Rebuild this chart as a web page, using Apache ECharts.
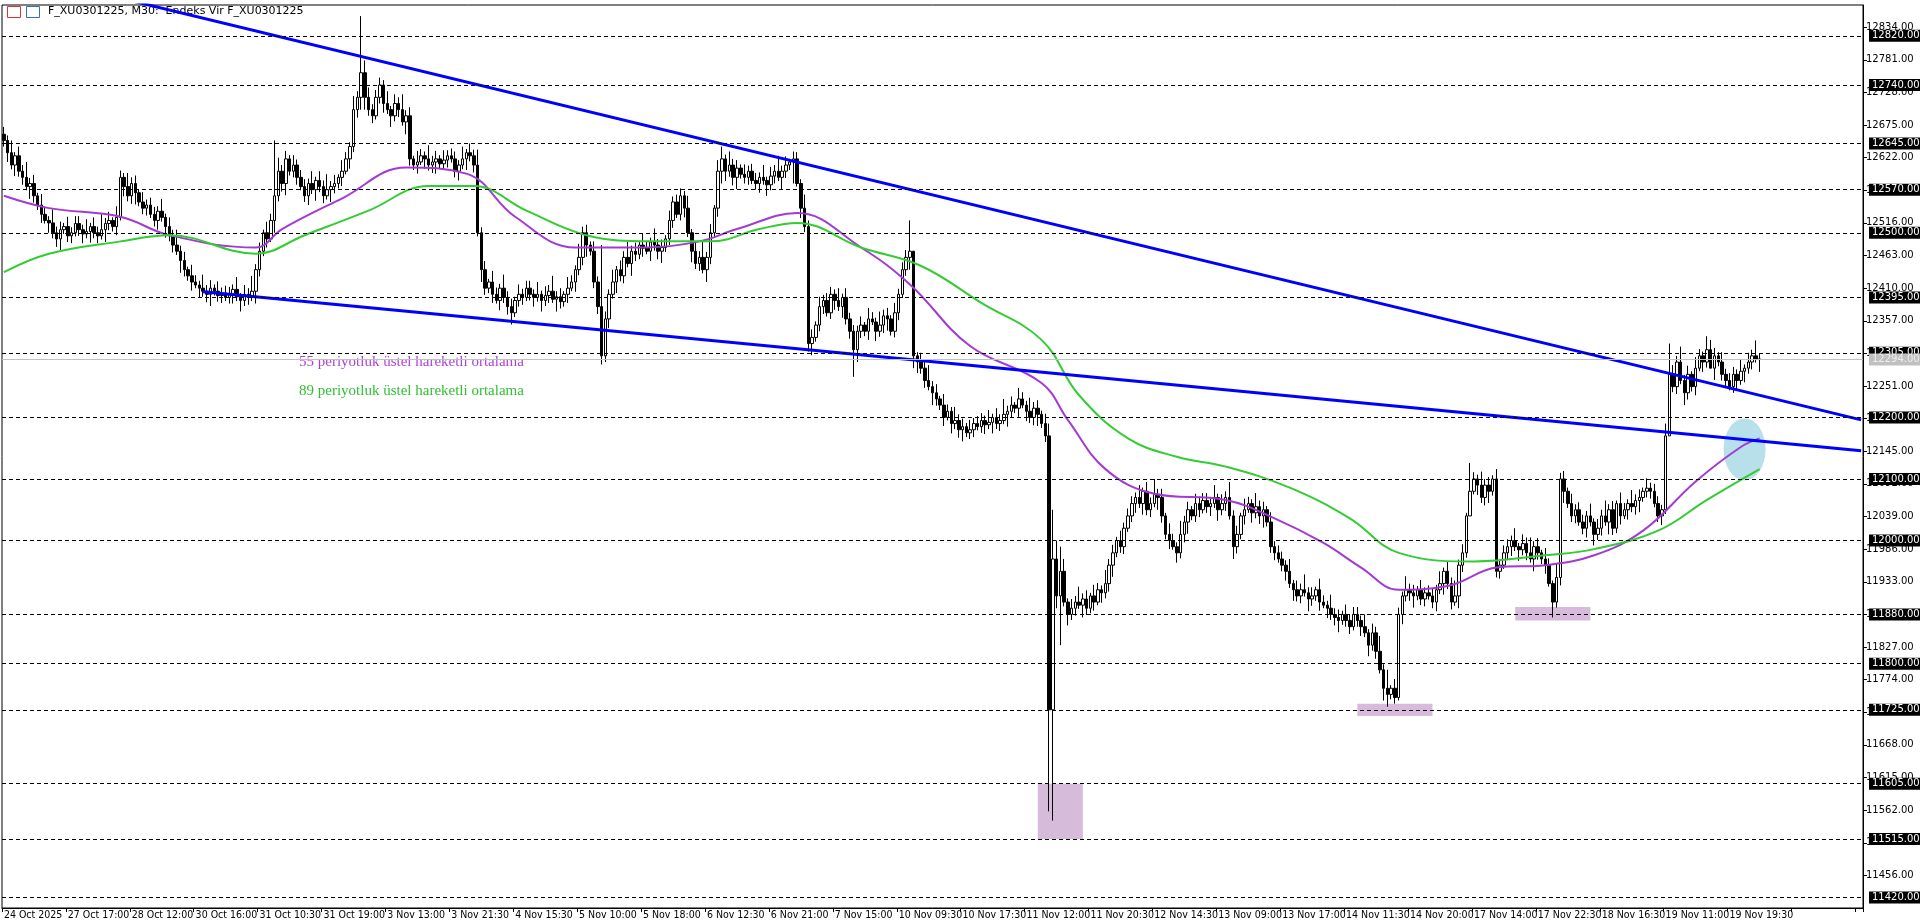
<!DOCTYPE html>
<html><head><meta charset="utf-8">
<script src="https://cdn.jsdelivr.net/npm/echarts@6/dist/echarts.min.js"></script>
<style>html,body{margin:0;padding:0;background:#fff}#c{width:1920px;height:923px}</style>
</head><body><div id="c"></div>
<script>
// x-axis tick labels (one every 17 bars)
const timeLabels = ["24 Oct 2025","27 Oct 17:00","28 Oct 12:00","30 Oct 16:00","31 Oct 10:30","31 Oct 19:00","3 Nov 13:00","3 Nov 21:30","4 Nov 15:30","5 Nov 10:00","5 Nov 18:00","6 Nov 12:30","6 Nov 21:00","7 Nov 15:00","10 Nov 09:30","10 Nov 17:30","11 Nov 12:00","11 Nov 20:30","12 Nov 14:30","13 Nov 09:00","13 Nov 17:00","14 Nov 11:30","14 Nov 20:00","17 Nov 14:00","17 Nov 22:30","18 Nov 16:30","19 Nov 11:00","19 Nov 19:30"];
const firstOpen = 12660;
// closing prices, bar by bar (open of each bar = previous close)
const closes = [
12650,12630,12610,12625,12600,12590,12575,12580,12560,12545,12530,12520,12516,
12500,12490,12505,12510,12495,12500,12515,12505,12498,12502,12510,12500,12495,12505,12515,12520,12510,12525,
12590,12575,12560,12580,12565,
12550,12540,12545,12530,12520,12535,12525,12510,12495,12480,
12470,12455,12440,12430,12420,12415,12410,12405,12400,12410,
12405,12398,12402,12395,12400,12408,12396,12390,12400,12395,12405,
12440,12470,12500,12490,12520,12560,12600,12580,12620,12600,12610,12590,
12575,12560,12580,12570,12585,12575,12560,12570,12575,12580,12590,12600,12620,12640,
12700,12720,12760,12720,12700,12690,12720,12740,12710,12700,12690,12710,12700,12680,12690,
12620,12610,12615,12625,12620,12610,12615,12620,12612,12618,12625,12620,12600,12610,12620,12630,12625,12610,
12500,12440,12410,12420,12400,12390,12410,12395,12380,12370,12390,12400,12395,12410,12400,
12395,12400,12390,12398,12405,12392,12396,12388,12400,12410,12420,12440,12460,
12500,12480,12470,12420,12380,12300,
12360,12400,12420,12440,12430,12460,12450,12470,12465,12480,12475,12470,12485,12480,12470,12476,12490,
12520,12550,12530,12560,12540,12500,12470,
12450,12460,12440,12460,12500,12540,
12600,12620,12600,12610,12590,12605,12595,12590,12600,12585,12580,12590,12585,12578,12592,12600,12590,12600,12610,12615,
12620,12580,12540,12510,12320,12330,
12350,12380,12390,12370,12400,12390,12380,12395,12360,12340,12310,12340,
12350,12340,12360,12355,12340,12350,12365,12360,12340,12370,12400,12440,12460,
12470,12300,12290,
12280,12260,12250,12240,12230,12220,12200,12210,12190,12195,12180,12185,12175,12180,
12190,12185,12195,12188,12192,12200,12190,12195,12205,12210,
12220,12215,12230,12220,12210,12200,12215,12205,12190,12170,
11725,11970,
11910,11950,11900,11880,11890,11900,11895,11905,11890,11910,11900,11920,11915,11930,
11960,11980,12000,11990,12020,12040,12060,
12070,12060,12080,12050,12060,12075,12070,12040,
12010,12000,11990,11980,12010,
12030,12050,12040,12060,12050,12065,12055,12060,12070,12050,12060,12070,12040,
11990,12010,12040,12050,12060,12045,12055,12040,12050,12030,
11990,11980,11970,11960,11950,
11930,11920,11910,11920,11915,11905,11910,11920,11900,11895,11890,
11880,11875,11870,11880,11870,11860,11880,11870,11860,11850,
11830,11850,11820,11790,11760,11750,11760,11745,
11880,11910,11920,11915,11910,11920,11905,11915,11910,11900,11920,11930,
11950,11930,11900,11910,11960,11980,
12040,12080,12100,12090,12070,12090,12080,12100,
11950,11960,11980,11990,12000,11990,11985,11995,11980,11970,11990,11980,11970,11960,
11930,11900,11940,
12100,12080,12060,12040,12050,12030,12020,12040,12030,12010,12020,
12040,12030,12050,12020,12060,12040,12050,12060,12055,12065,12070,12080,
12085,12080,12060,12040,12050,
12170,12270,12250,
12290,12260,12240,12270,12250,12280,
12300,12290,12310,12280,12300,12290,12270,
12260,12250,12270,12260,12275,12280,
12290,12300,12295,12294];
// typical wick lengths (points), repeating pattern
const upWicks = [12,8,20,6,15,10,25,9,14,5,18,11,7,22,10,13,6,16,9,12];
const downWicks = [10,15,7,18,9,12,6,20,11,8,14,5,16,9,13,19,7,10,12,6];
// notable extremes: [bar index, high, low]
const extremes = [[95,12852,12700],[96,12780,12700],[159,12480,12286],[226,12350,12266],[241,12520,12440],[242,12470,12280],[278,12190,11560],[279,12050,11545],[280,12000,11890],[281,11990,11830],[368,11790,11730],[370,11775,11735],[390,12126,12060],[412,11935,11875],[72,12650,12500],[443,12320,12250],[454,12326,12280],[191,12640,12580],[210,12632,12580]];
// EMA lines: [bar index, value]
const ema55 = [[0,12560],[12,12540],[31,12526],[44,12496],[67,12476],[74,12506],[90,12556],[107,12606],[123,12596],[136,12526],[152,12476],[169,12476],[185,12486],[195,12506],[211,12532],[228,12476],[241,12416],[257,12316],[276,12256],[283,12196],[293,12116],[306,12076],[325,12066],[338,12036],[351,11996],[361,11956],[371,11920],[384,11926],[397,11956],[410,11960],[423,11976],[436,12016],[450,12096],[462,12152],[467,12166]];
const ema89 = [[0,12436],[12,12466],[31,12486],[44,12496],[67,12466],[80,12496],[97,12536],[113,12576],[125,12576],[139,12536],[155,12496],[172,12486],[188,12486],[201,12506],[211,12516],[228,12476],[244,12446],[260,12386],[276,12326],[286,12236],[299,12166],[312,12136],[325,12120],[342,12086],[358,12036],[371,11980],[391,11966],[410,11976],[423,11986],[440,12016],[453,12066],[467,12116]];
const upperTrend = [[0,12927],[494,12196]];
const lowerTrend = [[53,12404],[494,12146]];
const gridLevels = [12820,12740,12645,12570,12500,12395,12305,12200,12100,12000,11880,11800,11725,11605,11515,11420];
const currentPrice = 12294;
const zones = [[275,287,11515,11605],[360,380,11715,11735],[402,422,11870,11892]];
const highlight = [463,12148];
const totalSlots = 495;

const cats = [];
for (let i = 0; i < totalSlots; i++) cats.push(i);
const ohlc = closes.map((c, i) => {
  const o = i === 0 ? firstOpen : closes[i - 1];
  let h = Math.max(o, c) + upWicks[i % upWicks.length];
  let l = Math.min(o, c) - downWicks[i % downWicks.length];
  return [o, c, l, h];
});
extremes.forEach(([i, h, l]) => { ohlc[i][3] = Math.max(h, ohlc[i][0], ohlc[i][1]); ohlc[i][2] = Math.min(l, ohlc[i][0], ohlc[i][1]); });

const chart = echarts.init(document.getElementById('c'));
const font = 'DejaVu Sans';
const narrow = 'Liberation Sans Narrow, DejaVu Sans Condensed, sans-serif';
chart.setOption({
  animation: false,
  backgroundColor: '#fff',
  grid: {left: 2, right: 57, top: 5, bottom: 15, show: true, borderColor: '#000', borderWidth: 1},
  xAxis: {
    type: 'category', data: cats, boundaryGap: true,
    axisLine: {lineStyle: {color: '#000'}},
    axisTick: {show: true, interval: (i) => i % 17 === 0, length: 4, lineStyle: {color: '#000'}},
    axisLabel: {interval: (i) => i % 17 === 0, formatter: (v) => timeLabels[v / 17] || '', align: 'left', margin: 2, fontFamily: narrow, fontSize: 10.5, color: '#000'},
    splitLine: {show: false}
  },
  yAxis: {
    type: 'value', position: 'right', min: 11403, max: 12870, interval: 53, scale: true,
    axisLine: {show: true, lineStyle: {color: '#000'}},
    axisTick: {show: true, length: 4, lineStyle: {color: '#000'}},
    axisLabel: {fontFamily: font, fontSize: 10, color: '#000', margin: 3, formatter: (v) => v.toFixed(2), showMaxLabel: false, showMinLabel: false},
    splitLine: {show: false}
  },
  graphic: [
    {type: 'text', left: 48, top: 6, style: {text: 'F_XU0301225, M30:  Endeks Vir F_XU0301225', font: '11px DejaVu Sans', fill: '#000'}},
    {type: 'group', left: 7, top: 6, children: [
      {type: 'rect', shape: {x: 0, y: 0, width: 13, height: 11}, style: {fill: '#fff', stroke: '#d33', lineWidth: 1}},
      {type: 'rect', shape: {x: 19, y: 0, width: 13, height: 11}, style: {fill: '#fff', stroke: '#3570c0', lineWidth: 1}}
    ]},
    {type: 'text', left: 299, top: 355, style: {text: '55 periyotluk üstel hareketli ortalama', font: '15px Liberation Serif', fill: '#b03fd6'}},
    {type: 'text', left: 299, top: 384, style: {text: '89 periyotluk üstel hareketli ortalama', font: '15px Liberation Serif', fill: '#2fbf2f'}}
  ],
  series: [
    {
      type: 'candlestick', data: ohlc, barWidth: 3,
      itemStyle: {color: '#fff', color0: '#000', borderColor: '#000', borderColor0: '#000', borderWidth: 1},
      markArea: {silent: true, itemStyle: {color: 'rgba(200,165,205,0.75)'},
        data: zones.map(z => [{xAxis: z[0], yAxis: z[2]}, {xAxis: z[1], yAxis: z[3]}])},
      markLine: {silent: true, symbol: 'none',
        data: gridLevels.map(v => ({yAxis: v, lineStyle: {color: '#000', type: [4, 3], width: 1},
            label: {show: true, position: 'end', distance: 6, formatter: v.toFixed(2), backgroundColor: '#000', color: '#fff', fontFamily: font, fontSize: 10, padding: [1, 3]}}))
          .concat([{yAxis: currentPrice, lineStyle: {color: '#c0c0c0', type: 'solid', width: 1},
            label: {show: true, position: 'end', distance: 6, formatter: currentPrice.toFixed(2), backgroundColor: '#c0c0c0', color: '#eee', fontFamily: font, fontSize: 10, padding: [1, 3]}}])}
    },
    {type: 'scatter', data: [highlight], symbol: 'circle', symbolSize: [42, 62], itemStyle: {color: 'rgba(150,210,225,0.85)'}, z: 1, silent: true},
    {type: 'line', data: ema55, smooth: 0.4, showSymbol: false, lineStyle: {color: '#a43ad4', width: 2}, z: 3},
    {type: 'line', data: ema89, smooth: 0.4, showSymbol: false, lineStyle: {color: '#33cc33', width: 2}, z: 3},
    {type: 'line', data: upperTrend, showSymbol: false, lineStyle: {color: '#0000ff', width: 3}, z: 4},
    {type: 'line', data: lowerTrend, showSymbol: false, lineStyle: {color: '#0000ff', width: 3}, z: 4}
  ]
});
</script></body></html>
